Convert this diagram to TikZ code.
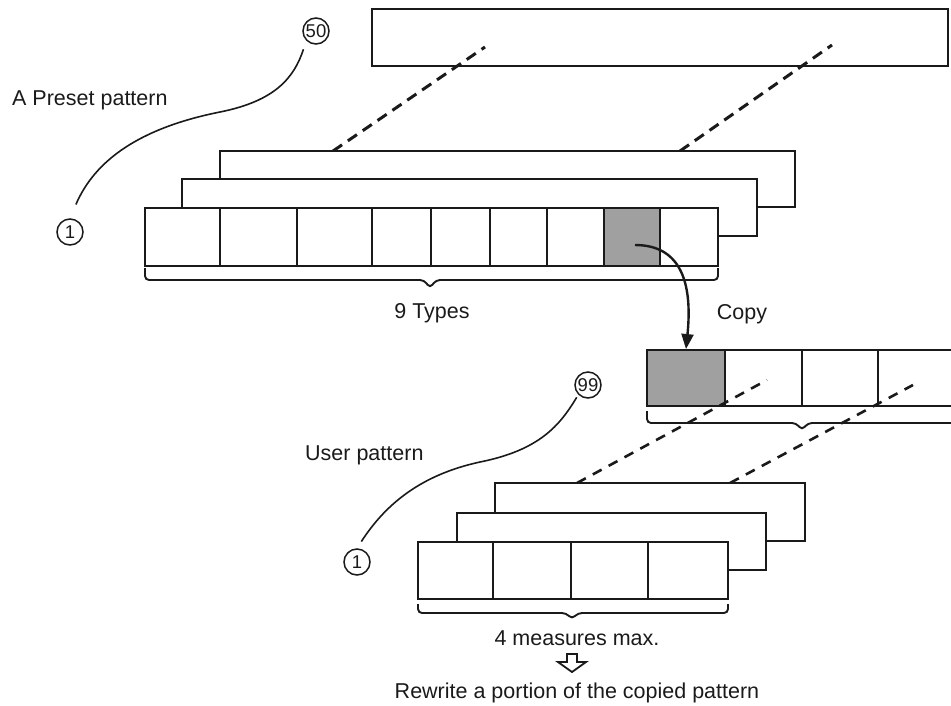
\documentclass[tikz,border=0pt]{standalone}
\usepackage{fontspec}
\setmainfont{Liberation Sans}
\usetikzlibrary{arrows.meta}
\definecolor{printink}{HTML}{1A1A1A}
\definecolor{dotfill}{HTML}{A0A0A0}

\begin{document}
\begin{tikzpicture}[
  x=1pt,
  y=-1pt,
  every node/.style={font=\fontsize{21.5}{25}\selectfont, printink},
  layer/.style={printink, line width=1.9pt, fill=white},
  divider/.style={printink, line width=1.9pt},
  shaded/.style={draw=printink, line width=1.9pt, fill=dotfill, inner sep=0pt},
  guide/.style={printink, line width=3pt, dash pattern=on 11pt off 7pt},
  leader/.style={printink, line width=1.6pt},
  num/.style={circle, draw=printink, line width=1.5pt, inner sep=0pt,
    minimum size=26pt, font=\fontsize{18.5}{20}\selectfont},
  bracket/.style={printink, line width=1.9pt, rounded corners=4pt},
  copyarrow/.style={printink, line width=2.4pt, -{Triangle[length=15pt, width=12pt]}}
]
  \useasboundingbox (0,0) rectangle (951,705);
  \clip (0,0) rectangle (951,705);

  % ================= preset patterns: 1 to 50 ===========================
  \draw[layer, fill=none] (372,9) rectangle (948,66);

  \coordinate (pa1) at (333,151);  \coordinate (pb1) at (485,47);
  \coordinate (pa2) at (680,151);  \coordinate (pb2) at (832,45);
  \draw[guide] (pa1) -- (pb1);
  \draw[guide] (pa2) -- (pb2);

  \draw[layer] (220,151) rectangle (795,207);
  \draw[layer] (182,179) rectangle (757,236);
  \draw[layer] (145,208) rectangle (718,266);
  \node[shaded, minimum width=56pt, minimum height=58pt] (src) at (632,237) {};
  \foreach \cx in {220, 297, 372, 431, 490, 547}
    \draw[divider] (\cx,208) -- (\cx,266);

  \draw[bracket] (145,268) -- (145,280) -- (424,280) -- (430,288)
    -- (436,280) -- (718,280) -- (718,268);
  \node[anchor=base] (types) at (432,318) {9 Types};

  \node[anchor=base west, inner sep=0pt] (preset) at (12,105) {A Preset pattern};
  \node[num] (fifty) at (316,31) {50};
  \node[num] (onetop) at (70,232) {1};
  \draw[leader, shorten <=15pt, shorten >=9pt] (onetop.north)
    .. controls (95,160) and (140,128) .. (220,112)
    .. controls (275,101) and (294,78) .. (fifty.south west);

  % ================= the copy ===========================================
  \draw[layer, fill=none] (955,350) -- (647,350) -- (647,406) -- (955,406);
  \node[shaded, minimum width=78pt, minimum height=56pt] (dst) at (686,378) {};
  \foreach \cx in {802, 878}
    \draw[divider] (\cx,350) -- (\cx,406);
  \draw[bracket] (647,411) -- (647,423) -- (796,423) -- (802,430)
    -- (808,423) -- (960,423);

  \draw[copyarrow] ([shift={(3,8)}]src.center)
    .. controls (685,245) and (692,290) .. (dst.north);
  \node[anchor=base] (copy) at (742,319) {Copy};

  % ================= user patterns: 1 to 99 =============================
  \coordinate (ua1) at (577,483);  \coordinate (ub1) at (767,380);
  \coordinate (ua2) at (730,483);  \coordinate (ub2) at (913,385);
  \draw[guide, line width=2.6pt, dash pattern=on 10pt off 8pt] (ua1) -- (ub1);
  \draw[guide, line width=2.6pt, dash pattern=on 10pt off 8pt] (ua2) -- (ub2);

  \draw[layer] (495,483) rectangle (805,541);
  \draw[layer] (457,513) rectangle (766,570);
  \draw[layer] (418,542) rectangle (728,599);
  \foreach \cx in {493, 571, 648}
    \draw[divider] (\cx,542) -- (\cx,599);

  \draw[bracket] (418,604) -- (418,613) -- (566,613) -- (572,619)
    -- (578,613) -- (728,613) -- (728,604);
  \node[anchor=base] (measures) at (577,645) {4 measures max.};

  \draw[printink, line width=1.8pt, line join=miter] (567,654) -- (577,654)
    -- (577,662) -- (586,662) -- (572,672) -- (558,662) -- (567,662) -- cycle;
  \node[anchor=base] (rewrite) at (577,698) {Rewrite a portion of the copied pattern};

  \node[anchor=base west, inner sep=0pt] (user) at (305,460) {User pattern};
  \node[num] (ninetynine) at (588,385) {99};
  \node[num] (onebot) at (357,562) {1};
  \draw[leader, shorten <=8pt, shorten >=3pt] (onebot.north)
    .. controls (385,505) and (420,475) .. (480,462)
    .. controls (540,450) and (560,425) .. (ninetynine.south west);
\end{tikzpicture}
\end{document}
